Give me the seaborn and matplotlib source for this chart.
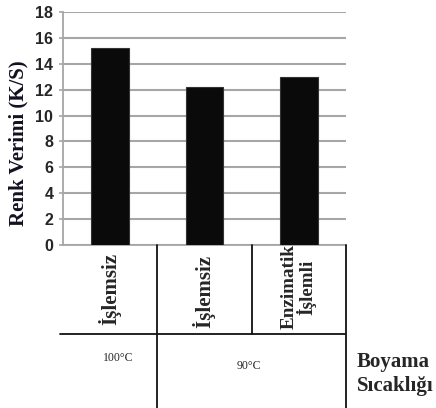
import matplotlib
matplotlib.use("Agg")
import matplotlib.pyplot as plt
import seaborn as sns
import pandas as pd
from matplotlib.lines import Line2D
import matplotlib.transforms as mtransforms

# Data
categories = ["İşlemsiz", "İşlemsiz ", "Enzimatik\nİşlemli"]
values = [15.2, 12.2, 13.0]
yticks = [0, 2, 4, 6, 8, 10, 12, 14, 16, 18]
temp_labels = ["100°C", "90°C"]

df = pd.DataFrame({"cat": categories, "val": values})

sns.set_theme(style="white")
plt.rcParams["font.family"] = ["Liberation Sans", "DejaVu Sans"]

W, H = 436, 408
fig = plt.figure(figsize=(W / 100, H / 100), dpi=100)
ax = fig.add_axes([63 / W, 1 - 245 / H, 283 / W, 233 / H])

sns.barplot(data=df, x="cat", y="val", color="#0a0a0a", width=0.4,
            edgecolor="#333333", linewidth=0.8, saturation=1, ax=ax, zorder=3)

ax.set_ylim(0, 18)
ax.set_xlim(-0.5, 2.5)
ax.set_yticks(yticks)
ax.set_yticklabels([str(t) for t in yticks], fontsize=11.5, fontweight="bold",
                   family=["Liberation Sans", "DejaVu Sans"])
ax.yaxis.grid(True, color="#a6a6a6", linewidth=1.5, zorder=0)
ax.set_axisbelow(True)
ax.set_xticks([])
ax.set_xlabel("")
ax.set_ylabel("Renk Verimi (K/S)", fontsize=15, fontweight="bold",
              family=["Liberation Serif", "DejaVu Serif"], color="#111122",
              va="center")
ax.yaxis.set_label_coords((18 - 63) / 283, (245 - 143) / 233)
ax.tick_params(axis="y", length=3, color="#a6a6a6", width=1.2, pad=4, left=True)
for s in ["top", "right"]:
    ax.spines[s].set_visible(False)
ax.spines["left"].set_color("#a6a6a6")
ax.spines["left"].set_linewidth(1.3)
ax.spines["bottom"].set_color("#a6a6a6")
ax.spines["bottom"].set_linewidth(1.3)

# Table below the axis
def fy(px):
    return 1 - px / H

def fx(px):
    return px / W

trans = mtransforms.blended_transform_factory(ax.transData, fig.transFigure)
serif = ["Liberation Serif", "DejaVu Serif"]
for i, c in enumerate(categories):
    ax.text(i, fy(289 if i < 2 else 287), c, transform=trans, rotation=90,
            ha="center", va="center", fontsize=15 if i < 2 else 13.8, fontweight="bold",
            family=serif, linespacing=0.9, multialignment="center", clip_on=False)

lc = "#111111"
lines = [
    ((0.5, 0.5), (fy(245), fy(408))),
    ((1.5, 1.5), (fy(245), fy(334))),
    ((2.5, 2.5), (fy(245), fy(408))),
]
for xs, ys in lines:
    fig.add_artist(Line2D(xs, ys, transform=trans, color=lc, linewidth=1.3))
fig.add_artist(Line2D([fx(60), fx(345)], [fy(334), fy(334)], transform=fig.transFigure,
                      color=lc, linewidth=1.3))

fig.text(fx(118), fy(358), temp_labels[0], ha="center", va="center", fontsize=8.5,
         family=serif)
fig.text(fx(249), fy(366), temp_labels[1], ha="center", va="center", fontsize=8.5,
         family=serif)
fig.text(fx(357), fy(374), "Boyama\nSıcaklığı", ha="left", va="center", fontsize=15,
         fontweight="bold", family=serif, linespacing=1.25)

fig.savefig("out.png", dpi=100, facecolor="white")
